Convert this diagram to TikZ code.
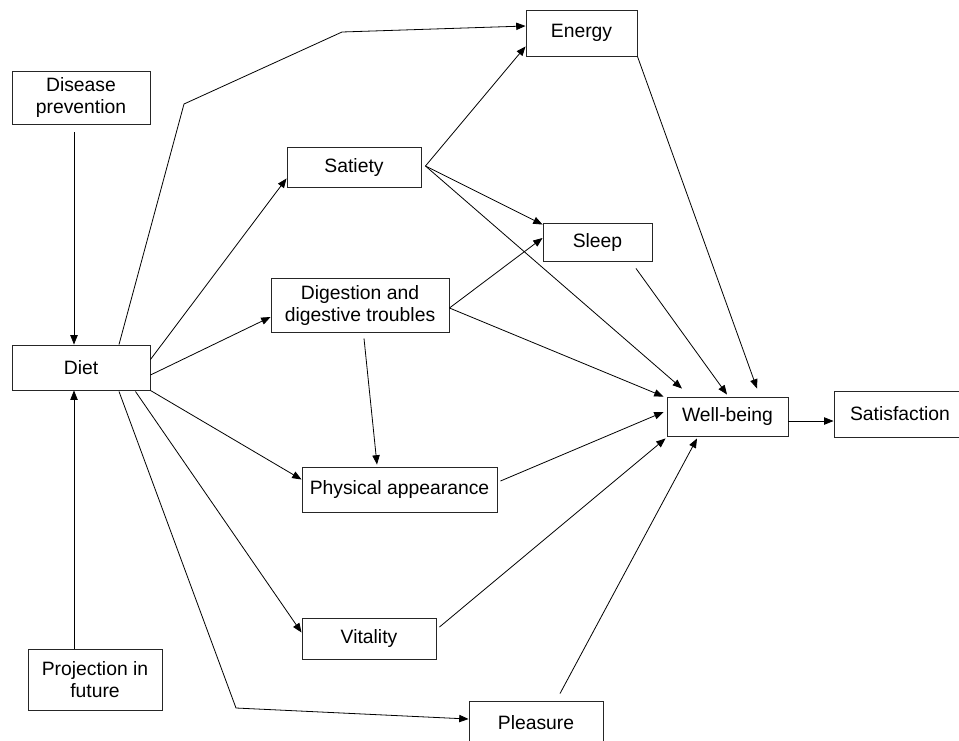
\documentclass[tikz,border=0pt]{standalone}
\usepackage{fontspec}
\setmainfont{Liberation Sans}
\usetikzlibrary{arrows.meta,calc}

\begin{document}
\begin{tikzpicture}[x=0.75pt,y=-0.75pt,>={Triangle[length=7pt,width=5.5pt]},
    line width=0.6pt,
    box/.style={draw=black!85,line width=0.7pt,inner sep=0pt,align=center,
      font=\fontsize{14.5}{16.5}\selectfont}]
    \useasboundingbox (0,0) rectangle (959,740);
    \clip (0,0) rectangle (959,740);

    \node[box, minimum width=103.5pt, minimum height=39.75pt] (prev) at (81,97.5) {Disease\\prevention};
    \node[box, minimum width=103.5pt, minimum height=33.75pt] (diet) at (81,367.5) {Diet};
    \node[box, minimum width=100.5pt, minimum height=45.75pt] (proj) at (95,679.5) {Projection in\\future};
    \node[box, minimum width=100.5pt, minimum height=30pt] (satiety) at (354,167) {Satiety};
    \node[box, minimum width=133.5pt, minimum height=40.5pt] (digest) at (360,305) {Digestion and\\digestive troubles};
    \node[box, minimum width=83.25pt, minimum height=34.5pt] (energy) at (581.5,33) {Energy};
    \node[box, minimum width=81.75pt, minimum height=28.5pt] (sleep) at (597.5,242) {Sleep};
    \node[box, minimum width=90.75pt, minimum height=29.25pt] (wellb) at (727.5,416.5) {Well-being};
    \node[box, minimum width=99pt, minimum height=34.5pt] (satisf) at (900,414) {Satisfaction};
    \node[box, minimum width=146.25pt, minimum height=33.75pt] (phys) at (399.5,489.5) {Physical appearance};
    \node[box, minimum width=100.5pt, minimum height=30.75pt] (vital) at (369,638.5) {Vitality};
    \node[box, minimum width=100.5pt, minimum height=33pt] (pleas) at (536,723) {Pleasure};

    % bends of the two long links
    \coordinate (upA) at (184,104);
    \coordinate (upB) at (342,32);
    \coordinate (low) at (236,708);

    \draw[->] ($(diet.north)+(38,0)$) -- (upA) -- (upB) -- ($(energy.west)+(0,-7)$);
    \draw[->] ($(diet.south)+(38,1)$) -- (low) -- ($(pleas.west)+(0,-4)$);

    \path[->]
      ($(prev.south)+(-7,8)$) edge ($(diet.north)+(-7,0)$)
      ($(proj.north)+(-21,0)$) edge ($(diet.south)+(-7,0)$)
      ($(diet.east)+(0,-8)$) edge ($(satiety.south west)+(0,-9)$)
      ($(diet.east)+(0,7.5)$) edge ($(digest.west)+(0,12)$)
      (diet.south east) edge ($(phys.west)+(0,-10)$)
      ($(diet.south east)+(-15,1)$) edge ($(vital.west)+(0,-6)$)
      ($(satiety.east)+(4,-1)$) edge ($(energy.south west)+(0,-10)$)
      ($(satiety.east)+(4,-1)$) edge ($(sleep.north west)+(0,2)$)
      ($(satiety.east)+(4,-1)$) edge ($(wellb.north)+(-45.5,-8)$)
      ($(digest.east)+(0,3)$) edge ($(sleep.west)+(0,-4)$)
      ($(digest.east)+(0,3)$) edge ($(wellb.north west)+(-3,0)$)
      ($(digest.south)+(4,6)$) edge ($(phys.north)+(-22.5,-2)$)
      (energy.south east) edge ($(wellb.north)+(29.5,-8)$)
      ($(sleep.south)+(38.5,7)$) edge ($(wellb.north)+(-0.5,-2)$)
      ($(phys.east)+(3,-8.5)$) edge ($(wellb.west)+(-3,-4.5)$)
      ($(vital.east)+(3,-11.5)$) edge ($(wellb.south west)+(-1,2)$)
      ($(pleas.north)+(24,-7)$) edge ($(wellb.south)+(-30.5,2)$)
      ($(wellb.east)+(0,4.5)$) edge ($(satisf.west)+(0,7)$)
    ;
\end{tikzpicture}
\end{document}
